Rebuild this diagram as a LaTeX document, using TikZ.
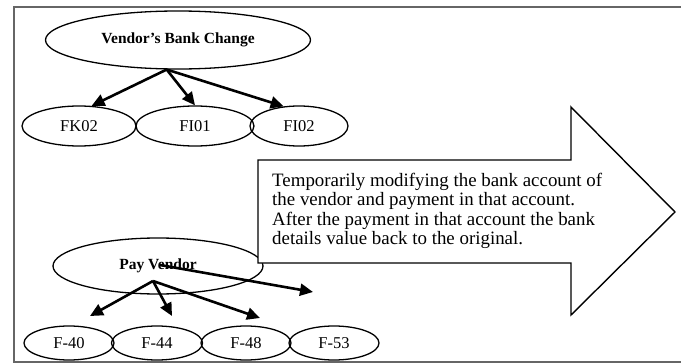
\documentclass[tikz,border=0pt]{standalone}
\usepackage{fontspec}
\setmainfont{Liberation Serif}
\usetikzlibrary{shapes.geometric,arrows.meta}
\begin{document}
\begin{tikzpicture}[x=1pt,y=-1pt,
  oval/.style={draw=black,line width=1.3pt,ellipse,inner sep=0pt},
  arr/.style={draw=black,line width=2.6pt,-{Triangle[length=13pt,width=12pt]}},
  lbl/.style={font=\fontsize{16.5}{18}\selectfont},
  boldlbl/.style={font=\fontsize{15.5}{18}\selectfont\bfseries},
  framecol/.style={draw=black!60,line width=2.5pt}]
\useasboundingbox (0,0) rectangle (681,364);

% outer frame (open to the right)
\draw[framecol] (681,7) -- (14,7) -- (14,362) -- (681,362);

% vendor bank change tree
\node[oval,boldlbl,minimum width=265pt,minimum height=58pt] (vbc) at (178,40) {Vendor’s Bank Change};
\node[oval,lbl,minimum width=114pt,minimum height=40pt] (fk02) at (79,126) {FK02};
\node[oval,lbl,minimum width=118pt,minimum height=40pt] (fi01) at (195,126) {FI01};
\node[oval,lbl,minimum width=98pt,minimum height=40pt] (fi02) at (299,126) {FI02};

\draw[arr] (vbc.249) -- (fk02.58);
\draw[arr] (vbc.249) -- (fi01.north);
\draw[arr] (vbc.249) -- (fi02.128);

% pay vendor tree
\node[oval,boldlbl,minimum width=210pt,minimum height=56pt] (pv) at (158,266) {Pay Vendor};
\node[oval,lbl,minimum width=90pt,minimum height=34pt] (f40) at (69,343) {F-40};
\node[oval,lbl,minimum width=91pt,minimum height=34pt] (f44) at (157,343) {F-44};
\node[oval,lbl,minimum width=90pt,minimum height=34pt] (f48) at (246,343) {F-48};
\node[oval,lbl,minimum width=90pt,minimum height=34pt] (f53) at (334,343) {F-53};

\coordinate (pvhub) at (153,281);
\coordinate (pvtail) at (160,265);
\coordinate (pvend) at (313,292);
\coordinate (t40) at (90,316);
\coordinate (t44) at (172,316);
\coordinate (t48) at (260,318);

\draw[arr] (pvhub) -- (t40);
\draw[arr] (pvhub) -- (t44);
\draw[arr] (pvhub) -- (t48);
\draw[arr] (pvtail) -- (pvend);

% block arrow with the note
\draw[line width=1.4pt,fill=white,line join=miter]
  (258,160) -- (571,160) -- (571,107) -- (675,212) -- (571,315) -- (571,263) -- (258,263) -- cycle;
\node[anchor=west,align=left,inner sep=0pt,font=\fontsize{18.9}{19.5}\selectfont] (note) at (272,211)
  {Temporarily modifying the bank account of\\
   the vendor and payment in that account.\\
   After the payment in that account the bank\\
   details value back to the original.};
\end{tikzpicture}
\end{document}
